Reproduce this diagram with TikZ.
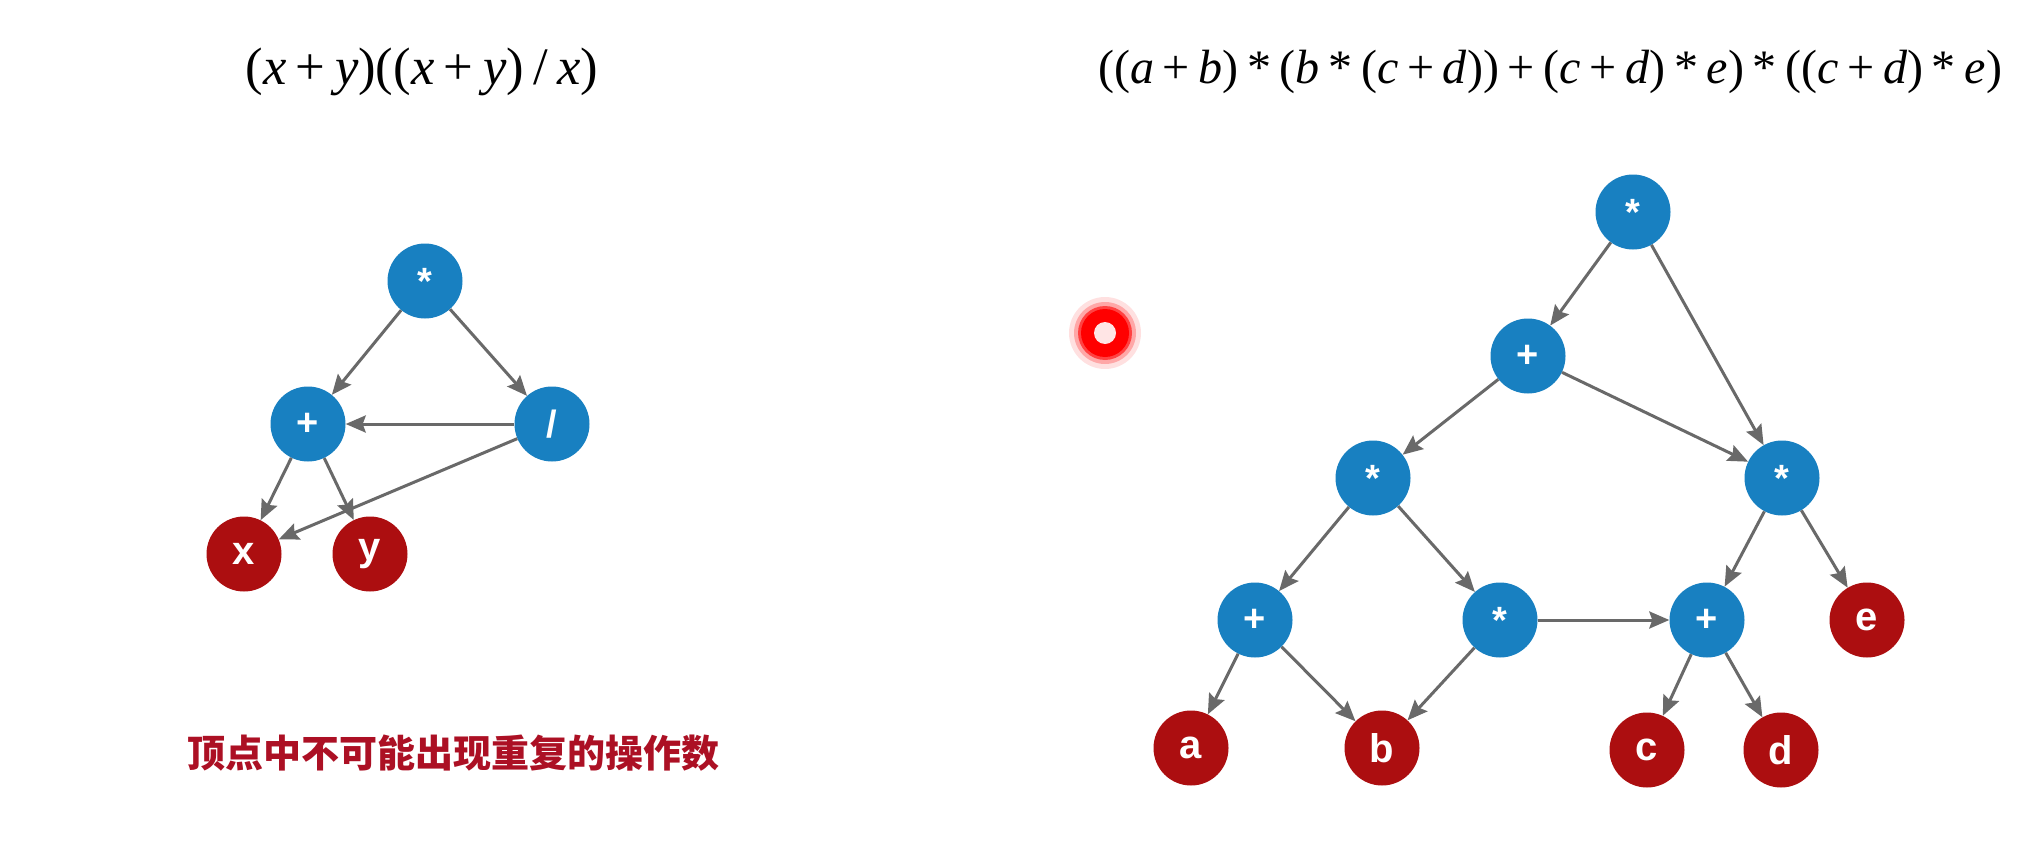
\documentclass[tikz,border=0pt]{standalone}
\usepackage{fontspec}
\setmainfont{Liberation Serif}
\newfontfamily\labfont{Liberation Sans}
\newfontfamily\cjk{Noto Sans CJK SC}
\usetikzlibrary{arrows.meta}
\definecolor{opblue}{RGB}{24,128,193}
\definecolor{leafred}{RGB}{172,14,16}
\definecolor{edgegray}{RGB}{105,105,105}
\definecolor{noteRed}{RGB}{172,16,36}
\newcommand\fv[1]{\textit{#1}}
\newcommand\op[1]{\hspace{0.18em}#1\hspace{0.18em}}
\tikzset{
  opnode/.style={circle, fill=opblue, minimum size=75pt, inner sep=0pt, text=white, font=\labfont\bfseries\fontsize{38}{38}\selectfont},
  leafnode/.style={circle, fill=leafred, minimum size=75pt, inner sep=0pt, text=white, font=\labfont\bfseries\fontsize{40}{40}\selectfont},
  edge/.style={draw=edgegray, line width=3pt, -{Stealth[length=20pt,width=17pt,inset=3pt]}},
}
\begin{document}
\begin{tikzpicture}[x=1pt,y=-1pt]
\useasboundingbox (0,0) rectangle (2042,848);
\fill[white] (0,0) rectangle (2042,848);

% formulas
\node (f1) at (422,72) {\resizebox{353pt}{!}{\fontsize{50}{50}\selectfont (\fv{x}\op{+}\fv{y})((\fv{x}\op{+}\fv{y})\op{/}\fv{x})}};
\node (f2) at (1550,72) {\resizebox{904pt}{!}{\fontsize{50}{50}\selectfont ((\fv{a}\op{+}\fv{b})\op{*}(\fv{b}\op{*}(\fv{c}\op{+}\fv{d}))\op{+}(\fv{c}\op{+}\fv{d})\op{*}\fv{e})\op{*}((\fv{c}\op{+}\fv{d})\op{*}\fv{e})}};

% left graph
\node[opnode] (lm) at (425,281) {*};
\node[opnode] (lp) at (308,424) {+};
\node[opnode] (ld) at (552,424) {/};
\node[leafnode] (lx) at (244,554) {x};
\node[leafnode] (ly) at (370,554) {y};
\draw[edge] (lm) -- (lp);
\draw[edge] (lm) -- (ld);
\draw[edge] (ld) -- (lp);
\draw[edge] (lp) -- (lx);
\draw[edge] (lp) -- (ly);
\draw[edge] (ld) -- (lx);

\node[text=noteRed, font=\cjk\bfseries\fontsize{38}{38}\selectfont] (note) at (453,753) {顶点中不可能出现重复的操作数};

% laser pointer dot
\fill[red, opacity=0.12] (1105,333) circle (36);
\fill[red, opacity=0.25] (1105,333) circle (31);
\fill[red, opacity=0.6] (1105,333) circle (27);
\fill[red] (1105,333) circle (24);
\fill[red!10] (1105,333) circle (11);

% right graph
\node[opnode] (r0) at (1633,212) {*};
\node[opnode] (r1) at (1528,356) {+};
\node[opnode] (r2) at (1373,478) {*};
\node[opnode] (r3) at (1782,478) {*};
\node[opnode] (r4) at (1255,620) {+};
\node[opnode] (r5) at (1500,620) {*};
\node[opnode] (r6) at (1707,620) {+};
\node[leafnode] (re) at (1867,620) {e};
\node[leafnode] (ra) at (1191,748) {a};
\node[leafnode] (rb) at (1382,748) {b};
\node[leafnode] (rc) at (1647,750) {c};
\node[leafnode] (rd) at (1781,750) {d};
\draw[edge] (r0) -- (r1);
\draw[edge] (r0) -- (r3);
\draw[edge] (r1) -- (r2);
\draw[edge] (r1) -- (r3);
\draw[edge] (r2) -- (r4);
\draw[edge] (r2) -- (r5);
\draw[edge] (r4) -- (ra);
\draw[edge] (r4) -- (rb);
\draw[edge] (r5) -- (rb);
\draw[edge] (r5) -- (r6);
\draw[edge] (r3) -- (r6);
\draw[edge] (r3) -- (re);
\draw[edge] (r6) -- (rc);
\draw[edge] (r6) -- (rd);
\end{tikzpicture}
\end{document}
